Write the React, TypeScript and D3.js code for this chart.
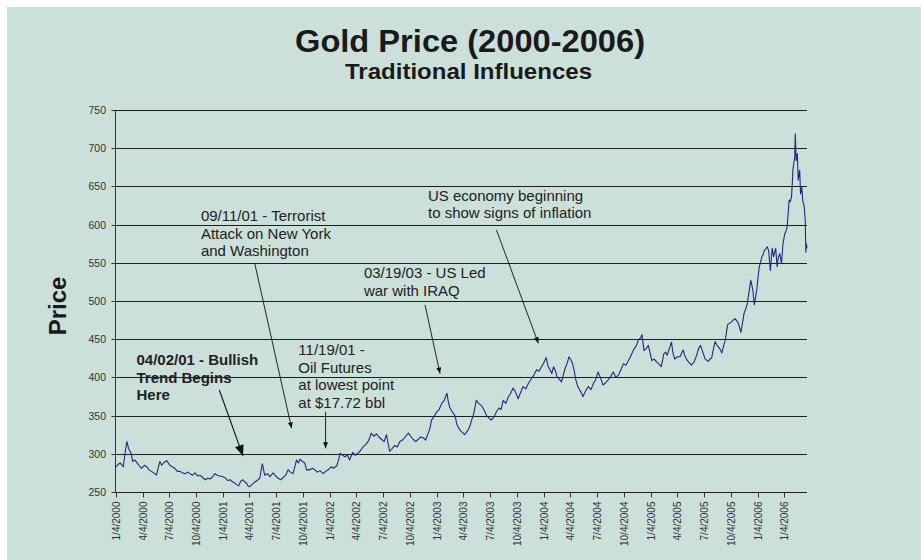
import * as d3 from "d3";

const W = 921;
const H = 560;
const MARGIN = { top: 110, right: 114, bottom: 68, left: 116 };
const FONT = "'Liberation Sans', Arial, Helvetica, sans-serif";
const BG = "#cbe0d8";
const LINE = "#262682";

// gold price readings, [month-day, price] per year
const gold2000: [string, number][] = [
  ["01-04", 283], ["01-11", 286], ["01-18", 288], ["01-29", 283], ["02-04", 301], ["02-10", 316], ["02-16", 307],
  ["02-24", 301], ["03-01", 290], ["03-08", 292], ["03-14", 289], ["03-22", 285], ["03-31", 281], ["04-10", 285],
  ["04-18", 283], ["04-26", 279], ["05-04", 277], ["05-12", 275], ["05-21", 272], ["06-02", 290], ["06-08", 285],
  ["06-14", 288], ["06-25", 291], ["07-06", 285], ["07-14", 283], ["07-23", 281], ["08-01", 277], ["08-10", 277],
  ["08-18", 275], ["08-27", 274], ["09-05", 276], ["09-13", 274], ["09-22", 272], ["09-30", 275], ["10-09", 271],
  ["10-17", 272], ["10-26", 269], ["11-04", 266], ["11-12", 268], ["11-21", 267], ["11-29", 270], ["12-07", 274],
  ["12-15", 272], ["12-24", 271],
];
const gold2001: [string, number][] = [
  ["01-04", 270], ["01-11", 268.5], ["01-20", 265], ["01-28", 266], ["02-06", 263], ["02-15", 261], ["02-26", 258],
  ["03-05", 264], ["03-13", 266], ["03-19", 263], ["03-24", 262], ["03-30", 258], ["04-05", 257], ["04-13", 260],
  ["04-22", 263], ["04-30", 265], ["05-09", 268], ["05-18", 287], ["05-26", 272], ["06-04", 274], ["06-13", 270],
  ["06-24", 275], ["07-02", 271], ["07-11", 268], ["07-20", 266], ["07-28", 269], ["08-06", 272], ["08-14", 279],
  ["08-22", 276], ["08-31", 274], ["09-12", 292], ["09-18", 288], ["09-24", 293], ["10-02", 290], ["10-10", 288],
  ["10-16", 279], ["10-27", 279], ["11-05", 281], ["11-14", 279], ["11-22", 276], ["12-01", 278], ["12-12", 274],
  ["12-20", 277], ["12-29", 279],
];
const gold2002: [string, number][] = [
  ["01-08", 283], ["01-16", 281], ["01-27", 284], ["02-01", 290], ["02-08", 301], ["02-16", 298], ["02-25", 296],
  ["03-04", 299], ["03-12", 292], ["03-23", 302], ["04-01", 298], ["04-10", 301], ["04-18", 304], ["04-27", 309],
  ["05-06", 312], ["05-14", 316], ["05-20", 321], ["05-25", 327], ["06-03", 323], ["06-12", 326], ["06-20", 322],
  ["06-29", 319], ["07-08", 316], ["07-16", 325], ["07-27", 303], ["08-05", 307], ["08-14", 311], ["08-22", 309],
  ["08-31", 316], ["09-09", 318], ["09-18", 322], ["09-29", 327], ["10-07", 323], ["10-15", 319], ["10-24", 316],
  ["11-02", 319], ["11-10", 322], ["11-19", 321], ["11-27", 318], ["12-06", 327], ["12-12", 334], ["12-17", 344],
  ["12-26", 349],
];
const gold2003: [string, number][] = [
  ["01-04", 355], ["01-12", 358], ["01-21", 366], ["01-30", 370], ["02-05", 377], ["02-08", 379], ["02-12", 369],
  ["02-17", 361], ["02-24", 356], ["03-02", 353], ["03-08", 349], ["03-14", 338], ["03-21", 333], ["03-29", 329],
  ["04-04", 327], ["04-09", 325], ["04-15", 328], ["04-21", 331], ["04-27", 336], ["05-03", 344], ["05-10", 352],
  ["05-19", 370], ["05-27", 366], ["06-06", 363], ["06-14", 358], ["06-23", 350], ["07-01", 347], ["07-09", 344],
  ["07-18", 348], ["07-27", 355], ["08-05", 360], ["08-12", 358], ["08-19", 370], ["08-28", 366], ["09-05", 374],
  ["09-13", 379], ["09-22", 386], ["09-30", 381], ["10-09", 372], ["10-17", 380], ["10-26", 388], ["11-04", 385],
  ["11-13", 392], ["11-24", 399], ["12-02", 403], ["12-11", 410], ["12-19", 408], ["12-28", 414],
];
const gold2004: [string, number][] = [
  ["01-06", 420], ["01-13", 426], ["01-19", 415], ["01-26", 410], ["02-01", 405], ["02-07", 414], ["02-13", 409],
  ["02-19", 401], ["02-26", 398], ["03-05", 394], ["03-10", 401], ["03-16", 410], ["03-24", 418], ["03-31", 427],
  ["04-06", 423], ["04-12", 418], ["04-18", 408], ["04-23", 397], ["04-30", 388], ["05-07", 383], ["05-12", 380],
  ["05-18", 375], ["05-26", 382], ["06-05", 388], ["06-14", 384], ["06-22", 392], ["06-30", 397], ["07-08", 407],
  ["07-16", 400], ["07-25", 390], ["08-03", 393], ["08-12", 397], ["08-20", 401], ["08-29", 407], ["09-07", 400],
  ["09-16", 403], ["09-24", 410], ["10-03", 418], ["10-11", 416], ["10-20", 422], ["10-28", 428], ["11-06", 436],
  ["11-15", 441], ["11-23", 449], ["12-01", 452], ["12-05", 456], ["12-12", 435], ["12-20", 438], ["12-27", 442],
];
const gold2005: [string, number][] = [
  ["01-03", 430], ["01-08", 422], ["01-16", 424], ["01-25", 420], ["02-02", 417], ["02-09", 414], ["02-18", 431],
  ["02-24", 433], ["03-01", 429], ["03-09", 438], ["03-16", 446], ["03-21", 432], ["03-27", 424], ["04-05", 427],
  ["04-14", 427], ["04-20", 432], ["04-25", 436], ["04-30", 429], ["05-06", 424], ["05-14", 420], ["05-23", 416],
  ["06-01", 420], ["06-10", 429], ["06-16", 437], ["06-23", 442], ["06-30", 434], ["07-08", 425], ["07-13", 423],
  ["07-19", 421], ["07-25", 424], ["07-31", 425], ["08-06", 437], ["08-12", 447], ["08-17", 443], ["08-23", 440],
  ["08-29", 437], ["09-04", 432], ["09-10", 441], ["09-16", 449], ["09-20", 460], ["09-24", 469], ["10-01", 471],
  ["10-08", 473], ["10-13", 475], ["10-19", 477], ["10-25", 474], ["10-30", 471], ["11-04", 465], ["11-08", 459],
  ["11-14", 472], ["11-19", 484], ["11-25", 490], ["11-30", 497], ["12-06", 512], ["12-12", 527], ["12-16", 520],
  ["12-19", 514], ["12-24", 495], ["12-28", 504],
];
const gold2006: [string, number][] = [
  ["01-02", 516], ["01-06", 532], ["01-10", 545], ["01-15", 552], ["01-19", 558], ["01-23", 561], ["01-27", 566],
  ["02-01", 568], ["02-06", 571], ["02-11", 566], ["02-14", 552], ["02-17", 540], ["02-20", 555], ["02-23", 569],
  ["02-28", 558], ["03-03", 563], ["03-07", 569], ["03-12", 545], ["03-16", 557], ["03-21", 562], ["03-27", 549],
  ["04-01", 575], ["04-07", 588], ["04-11", 591], ["04-15", 597], ["04-18", 612], ["04-22", 632], ["04-26", 630],
  ["04-30", 636], ["05-03", 655], ["05-05", 673], ["05-08", 680], ["05-11", 688], ["05-13", 719], ["05-16", 684],
  ["05-20", 693], ["05-23", 658], ["05-28", 671], ["05-31", 640], ["06-04", 649], ["06-08", 630], ["06-12", 625],
  ["06-16", 606], ["06-18", 564], ["06-20", 575], ["06-22", 569],
];

const years: [number, [string, number][]][] = [
  [2000, gold2000], [2001, gold2001], [2002, gold2002], [2003, gold2003],
  [2004, gold2004], [2005, gold2005], [2006, gold2006],
];

const yTicks = [250, 300, 350, 400, 450, 500, 550, 600, 650, 700, 750];

const xTickLabels = [
  "1/4/2000", "4/4/2000", "7/4/2000", "10/4/2000",
  "1/4/2001", "4/4/2001", "7/4/2001", "10/4/2001",
  "1/4/2002", "4/4/2002", "7/4/2002", "10/4/2002",
  "1/4/2003", "4/4/2003", "7/4/2003", "10/4/2003",
  "1/4/2004", "4/4/2004", "7/4/2004", "10/4/2004",
  "1/4/2005", "4/4/2005", "7/4/2005", "10/4/2005",
  "1/4/2006", "1/4/2006",
];

// annotations: text anchor (date, price), arrow from / to (date, price)
const notes = [
  { lines: ["09/11/01 - Terrorist", "Attack on New York", "and Washington"], at: ["2000-10-20", 604.7],
    from: ["2001-04-22", 549.3], to: ["2001-08-26", 333.4], bold: false, big: false },
  { lines: ["US economy beginning", "to show signs of inflation"], at: ["2002-12-05", 630.9],
    from: ["2003-07-27", 593], to: ["2003-12-17", 444.6], bold: false, big: false },
  { lines: ["03/19/03 - US Led", "war with IRAQ"], at: ["2002-04-30", 530.1],
    from: ["2002-11-25", 494.8], to: ["2003-01-15", 405], bold: false, big: false },
  { lines: ["11/19/01 -", "Oil Futures", "at lowest point", "at $17.72 bbl"], at: ["2001-09-18", 429.3],
    from: ["2001-12-20", 355], to: ["2001-12-20", 307.2], bold: false, big: false },
  { lines: ["04/02/01 - Bullish", "Trend Begins", "Here"], at: ["2000-03-14", 416.2],
    from: ["2000-12-22", 383.5], to: ["2001-03-13", 297], bold: true, big: true },
];

const parse = d3.timeParse("%Y-%m-%d");

export default function App() {
  const data = years.flatMap(([yr, rows]) =>
    rows.map(([md, v]) => ({ date: parse(`${yr}-${md}`) as Date, value: v }))
  );
  const tickDates = xTickLabels.map((_, i) => new Date(2000, i * 3, 4));

  const x = d3
    .scaleTime()
    .domain([new Date(2000, 0, 4), new Date(2006, 5, 22)])
    .range([MARGIN.left, W - MARGIN.right]);
  const y = d3.scaleLinear().domain([250, 750]).range([H - MARGIN.bottom, MARGIN.top]);

  const line = d3
    .line<{ date: Date; value: number }>()
    .x((d) => x(d.date))
    .y((d) => y(d.value));

  const x0 = MARGIN.left - 0.5;
  const x1 = W - MARGIN.right;
  const yBase = Math.round(y(250)) + 0.5;

  const arrowHead = (fx: number, fy: number, tx: number, ty: number, big: boolean) => {
    const len = big ? 11 : 6;
    const half = big ? 4.5 : 2.5;
    const a = Math.atan2(ty - fy, tx - fx);
    const bx = tx - len * Math.cos(a);
    const by = ty - len * Math.sin(a);
    const px = -Math.sin(a) * half;
    const py = Math.cos(a) * half;
    return `M${tx},${ty}L${bx + px},${by + py}L${bx - px},${by - py}Z`;
  };

  return (
    <svg width={W} height={H} style={{ position: "absolute", left: 0, top: 0, background: "#fff" }}>
      <rect x={7} y={7} width={W - 7} height={H - 7} fill={BG} />

      <text x={470} y={52} textAnchor="middle" fontFamily={FONT} fontWeight="bold" fontSize={31}
        fill="#1a1a1a" textLength={350} lengthAdjust="spacingAndGlyphs">
        Gold Price (2000-2006)
      </text>
      <text x={468.5} y={79} textAnchor="middle" fontFamily={FONT} fontWeight="bold" fontSize={22}
        fill="#1a1a1a" textLength={247} lengthAdjust="spacingAndGlyphs">
        Traditional Influences
      </text>

      <text transform={`translate(66,306) rotate(-90)`} textAnchor="middle" fontFamily={FONT}
        fontWeight="bold" fontSize={24} fill="#1a1a1a">
        Price
      </text>

      {/* horizontal gridlines + y ticks */}
      {yTicks.map((t) => {
        const yy = Math.round(y(t)) + 0.5;
        return (
          <g key={t}>
            <line x1={x0} x2={x1} y1={yy} y2={yy} stroke="#1e1e1e" strokeWidth={1} />
            <line x1={x0 - 4} x2={x0} y1={yy} y2={yy} stroke="#333" />
            <text x={106} y={yy} dy="0.35em" textAnchor="end" fontFamily={FONT} fontSize={10.5} fill="#333">
              {t}
            </text>
          </g>
        );
      })}
      <line x1={x0} x2={x0} y1={y(750)} y2={yBase} stroke="#333" />

      {/* x axis */}
      <line x1={x0} x2={x1} y1={yBase} y2={yBase} stroke="#1e1e1e" />
      {tickDates.map((d, i) => {
        const xx = Math.round(x(d)) + 0.5;
        return (
          <g key={i}>
            <line x1={xx} x2={xx} y1={yBase} y2={yBase + 5} stroke="#333" />
            <text transform={`translate(${xx + 3.5},${yBase + 9}) rotate(-90)`} textAnchor="end"
              fontFamily={FONT} fontSize={10} fill="#333">
              {xTickLabels[i]}
            </text>
          </g>
        );
      })}

      <path d={line(data) || ""} fill="none" stroke={LINE} strokeWidth={1.1} strokeLinejoin="round" />

      {/* annotations */}
      {notes.map((n, i) => {
        const tx = x(parse(n.at[0] as string) as Date);
        const ty = y(n.at[1] as number);
        const fx = x(parse(n.from[0] as string) as Date);
        const fy = y(n.from[1] as number);
        const ex = x(parse(n.to[0] as string) as Date);
        const ey = y(n.to[1] as number);
        return (
          <g key={i}>
            <text fontFamily={FONT} fontSize={15} fontWeight={n.bold ? "bold" : "normal"} fill="#222">
              {n.lines.map((l, j) => (
                <tspan key={j} x={tx} y={ty + j * 17.5}>
                  {l}
                </tspan>
              ))}
            </text>
            <line x1={fx} y1={fy} x2={ex} y2={ey} stroke="#111" strokeWidth={n.big ? 1.1 : 0.9} />
            <path d={arrowHead(fx, fy, ex, ey, n.big)} fill="#111" />
          </g>
        );
      })}
    </svg>
  );
}
